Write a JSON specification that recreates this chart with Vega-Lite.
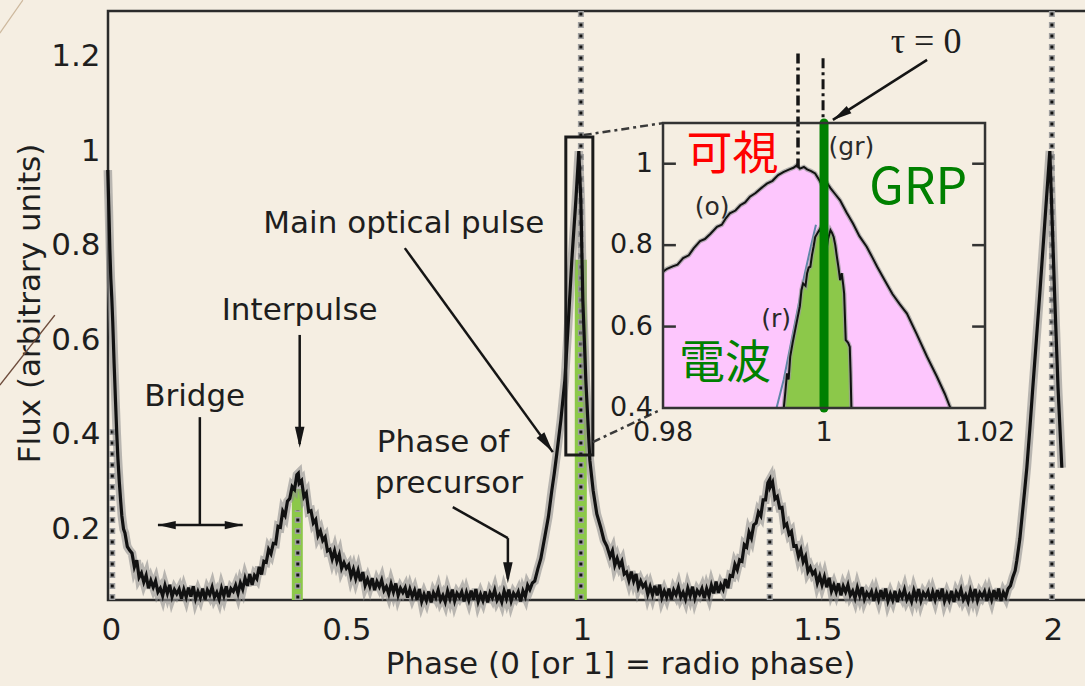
{
  "$schema": "https://vega.github.io/schema/vega-lite/v6.json",
  "width": 982,
  "height": 589,
  "autosize": {"type": "none"},
  "padding": {"left": 108, "top": 11, "right": 0, "bottom": 86},
  "background": "#f5eee2",
  "config": {"view": {"stroke": "#2b2b2b", "strokeWidth": 2.5}, "font": "DejaVu Sans"},
  "datasets": {
    "curve": [
      {"p":-0.0064,"f":0.96},{"p":-0.004,"f":0.87},{"p":-0.002,"f":0.79},{"p":0,"f":0.73},{"p":0.002,"f":0.69},{"p":0.004,"f":0.64},{"p":0.007,"f":0.55},{"p":0.01,"f":0.47},{"p":0.0127,"f":0.4},{"p":0.015,"f":0.35},{"p":0.018,"f":0.3},{"p":0.021,"f":0.258},{"p":0.0234,"f":0.228},{"p":0.027,"f":0.2},{"p":0.03,"f":0.192},{"p":0.035,"f":0.163},{"p":0.04,"f":0.155},
      {"p":0.045,"f":0.149},{"p":0.05,"f":0.12},{"p":0.055,"f":0.134},{"p":0.06,"f":0.098},{"p":0.065,"f":0.107},{"p":0.07,"f":0.088},{"p":0.075,"f":0.102},{"p":0.08,"f":0.075},{"p":0.085,"f":0.091},{"p":0.09,"f":0.077},{"p":0.095,"f":0.09},{"p":0.1,"f":0.067},{"p":0.105,"f":0.075},{"p":0.11,"f":0.059},{"p":0.115,"f":0.081},{"p":0.12,"f":0.064},{"p":0.125,"f":0.082},{"p":0.13,"f":0.057},{"p":0.135,"f":0.072},{"p":0.14,"f":0.063},{"p":0.145,"f":0.073},{"p":0.15,"f":0.053},{"p":0.155,"f":0.072},{"p":0.16,"f":0.056},{"p":0.165,"f":0.076},{"p":0.17,"f":0.057},{"p":0.175,"f":0.079},{"p":0.18,"f":0.053},{"p":0.185,"f":0.068},{"p":0.19,"f":0.055},{"p":0.195,"f":0.074},{"p":0.2,"f":0.051},{"p":0.205,"f":0.071},{"p":0.21,"f":0.061},{"p":0.215,"f":0.077},{"p":0.22,"f":0.056},{"p":0.225,"f":0.066},{"p":0.23,"f":0.052},{"p":0.235,"f":0.075},{"p":0.24,"f":0.059},{"p":0.245,"f":0.079},{"p":0.25,"f":0.056},{"p":0.255,"f":0.074},{"p":0.26,"f":0.068},{"p":0.265,"f":0.081},{"p":0.27,"f":0.064},{"p":0.275,"f":0.086},{"p":0.28,"f":0.073},{"p":0.285,"f":0.096},{"p":0.29,"f":0.08},{"p":0.295,"f":0.105},{"p":0.3,"f":0.082},{"p":0.305,"f":0.102},{"p":0.31,"f":0.095},{"p":0.315,"f":0.12},{"p":0.32,"f":0.104},{"p":0.325,"f":0.132},{"p":0.33,"f":0.13},{"p":0.335,"f":0.157},{"p":0.34,"f":0.148},{"p":0.345,"f":0.17},{"p":0.35,"f":0.169},{"p":0.355,"f":0.206},{"p":0.36,"f":0.204},{"p":0.365,"f":0.238},{"p":0.37,"f":0.229},{"p":0.375,"f":0.259},{"p":0.38,"f":0.265},{"p":0.385,"f":0.29},{"p":0.39,"f":0.284},{"p":0.395,"f":0.315},{"p":0.398,"f":0.318},{"p":0.4,"f":0.297},{"p":0.405,"f":0.303},{"p":0.41,"f":0.268},{"p":0.415,"f":0.276},{"p":0.42,"f":0.237},{"p":0.425,"f":0.239},{"p":0.43,"f":0.213},{"p":0.435,"f":0.22},{"p":0.44,"f":0.186},{"p":0.445,"f":0.196},{"p":0.45,"f":0.176},{"p":0.455,"f":0.183},{"p":0.46,"f":0.154},{"p":0.465,"f":0.157},{"p":0.47,"f":0.137},{"p":0.475,"f":0.154},{"p":0.48,"f":0.132},{"p":0.485,"f":0.146},{"p":0.49,"f":0.117},{"p":0.495,"f":0.129},{"p":0.5,"f":0.117},{"p":0.505,"f":0.124},{"p":0.51,"f":0.1},{"p":0.515,"f":0.115},{"p":0.52,"f":0.095},{"p":0.525,"f":0.112},{"p":0.53,"f":0.09},{"p":0.535,"f":0.109},{"p":0.54,"f":0.081},{"p":0.545,"f":0.094},{"p":0.55,"f":0.079},{"p":0.555,"f":0.096},{"p":0.56,"f":0.071},{"p":0.565,"f":0.089},{"p":0.57,"f":0.078},{"p":0.575,"f":0.092},{"p":0.58,"f":0.07},{"p":0.585,"f":0.078},{"p":0.59,"f":0.063},{"p":0.595,"f":0.084},{"p":0.6,"f":0.067},{"p":0.605,"f":0.085},{"p":0.61,"f":0.06},{"p":0.615,"f":0.075},{"p":0.62,"f":0.066},{"p":0.625,"f":0.076},{"p":0.63,"f":0.055},{"p":0.635,"f":0.073},{"p":0.64,"f":0.057},{"p":0.645,"f":0.07},{"p":0.65,"f":0.051},{"p":0.655,"f":0.073},{"p":0.66,"f":0.047},{"p":0.665,"f":0.062},{"p":0.67,"f":0.049},{"p":0.675,"f":0.068},{"p":0.68,"f":0.045},{"p":0.685,"f":0.065},{"p":0.69,"f":0.055},{"p":0.695,"f":0.071},{"p":0.7,"f":0.05},{"p":0.705,"f":0.06},{"p":0.71,"f":0.046},{"p":0.715,"f":0.069},{"p":0.72,"f":0.053},{"p":0.725,"f":0.072},{"p":0.73,"f":0.048},{"p":0.735,"f":0.064},{"p":0.74,"f":0.056},{"p":0.745,"f":0.067},{"p":0.75,"f":0.047},{"p":0.755,"f":0.066},{"p":0.76,"f":0.05},{"p":0.765,"f":0.07},{"p":0.77,"f":0.051},{"p":0.775,"f":0.073},{"p":0.78,"f":0.047},{"p":0.785,"f":0.062},{"p":0.79,"f":0.049},{"p":0.795,"f":0.068},{"p":0.8,"f":0.045},{"p":0.805,"f":0.065},{"p":0.81,"f":0.055},{"p":0.815,"f":0.071},{"p":0.82,"f":0.05},{"p":0.825,"f":0.06},{"p":0.83,"f":0.046},{"p":0.835,"f":0.069},{"p":0.84,"f":0.053},{"p":0.845,"f":0.072},{"p":0.85,"f":0.048},{"p":0.855,"f":0.064},{"p":0.86,"f":0.056},{"p":0.865,"f":0.067},{"p":0.87,"f":0.047},{"p":0.875,"f":0.069},{"p":0.88,"f":0.057},{"p":0.885,"f":0.081},
      {"p":0.8896,"f":0.072},{"p":0.895,"f":0.086},{"p":0.9,"f":0.09},{"p":0.9066,"f":0.116},{"p":0.913,"f":0.138},{"p":0.9214,"f":0.184},{"p":0.929,"f":0.226},{"p":0.9363,"f":0.282},{"p":0.9415,"f":0.318},{"p":0.9469,"f":0.36},{"p":0.9554,"f":0.43},{"p":0.9639,"f":0.515},{"p":0.9703,"f":0.62},{"p":0.9788,"f":0.77},{"p":0.9873,"f":0.896},{"p":0.9936,"f":1.0},{"p":0.9979,"f":0.896},{"p":1.0021,"f":0.685},{"p":1.0085,"f":0.515},{"p":1.017,"f":0.346},{"p":1.024,"f":0.282},{"p":1.0318,"f":0.232},{"p":1.04,"f":0.204},{"p":1.047,"f":0.176},{"p":1.0531,"f":0.164},
      {"p":1.06,"f":0.142},{"p":1.065,"f":0.154},{"p":1.07,"f":0.124},{"p":1.075,"f":0.138},{"p":1.08,"f":0.122},{"p":1.085,"f":0.132},{"p":1.09,"f":0.105},{"p":1.095,"f":0.109},{"p":1.1,"f":0.091},{"p":1.105,"f":0.11},{"p":1.11,"f":0.09},{"p":1.115,"f":0.105},{"p":1.12,"f":0.077},{"p":1.125,"f":0.09},{"p":1.13,"f":0.078},{"p":1.135,"f":0.085},{"p":1.14,"f":0.062},{"p":1.145,"f":0.078},{"p":1.15,"f":0.061},{"p":1.155,"f":0.08},{"p":1.16,"f":0.06},{"p":1.165,"f":0.082},{"p":1.17,"f":0.055},{"p":1.175,"f":0.069},{"p":1.18,"f":0.056},{"p":1.185,"f":0.074},{"p":1.19,"f":0.051},{"p":1.195,"f":0.071},{"p":1.2,"f":0.061},{"p":1.205,"f":0.077},{"p":1.21,"f":0.056},{"p":1.215,"f":0.066},{"p":1.22,"f":0.052},{"p":1.225,"f":0.075},{"p":1.23,"f":0.059},{"p":1.235,"f":0.078},{"p":1.24,"f":0.054},{"p":1.245,"f":0.07},{"p":1.25,"f":0.062},{"p":1.255,"f":0.074},{"p":1.26,"f":0.054},{"p":1.265,"f":0.074},{"p":1.27,"f":0.059},{"p":1.275,"f":0.081},{"p":1.28,"f":0.064},{"p":1.285,"f":0.089},{"p":1.29,"f":0.065},{"p":1.295,"f":0.082},{"p":1.3,"f":0.072},{"p":1.305,"f":0.094},{"p":1.31,"f":0.075},{"p":1.315,"f":0.102},{"p":1.32,"f":0.1},{"p":1.325,"f":0.125},{"p":1.33,"f":0.114},{"p":1.335,"f":0.135},{"p":1.34,"f":0.132},{"p":1.345,"f":0.167},{"p":1.35,"f":0.162},{"p":1.355,"f":0.193},{"p":1.36,"f":0.181},{"p":1.365,"f":0.209},{"p":1.37,"f":0.213},{"p":1.375,"f":0.236},{"p":1.38,"f":0.228},{"p":1.385,"f":0.262},{"p":1.39,"f":0.262},{"p":1.395,"f":0.298},{"p":1.399,"f":0.305},{"p":1.4,"f":0.289},{"p":1.405,"f":0.299},{"p":1.41,"f":0.264},{"p":1.415,"f":0.269},{"p":1.42,"f":0.245},{"p":1.425,"f":0.246},{"p":1.43,"f":0.206},{"p":1.435,"f":0.211},{"p":1.44,"f":0.189},{"p":1.445,"f":0.195},{"p":1.45,"f":0.164},{"p":1.455,"f":0.165},{"p":1.46,"f":0.142},{"p":1.465,"f":0.156},{"p":1.47,"f":0.131},{"p":1.475,"f":0.142},{"p":1.48,"f":0.11},{"p":1.485,"f":0.119},{"p":1.49,"f":0.105},{"p":1.495,"f":0.111},{"p":1.5,"f":0.086},{"p":1.505,"f":0.101},{"p":1.51,"f":0.082},{"p":1.515,"f":0.099},{"p":1.52,"f":0.077},{"p":1.525,"f":0.097},{"p":1.53,"f":0.069},{"p":1.535,"f":0.082},{"p":1.54,"f":0.067},{"p":1.545,"f":0.085},{"p":1.55,"f":0.06},{"p":1.555,"f":0.079},{"p":1.56,"f":0.067},{"p":1.565,"f":0.082},{"p":1.57,"f":0.06},{"p":1.575,"f":0.069},{"p":1.58,"f":0.054},{"p":1.585,"f":0.076},{"p":1.59,"f":0.059},{"p":1.595,"f":0.077},{"p":1.6,"f":0.052},{"p":1.605,"f":0.065},{"p":1.61,"f":0.057},{"p":1.615,"f":0.068},{"p":1.62,"f":0.048},{"p":1.625,"f":0.067},{"p":1.63,"f":0.051},{"p":1.635,"f":0.071},{"p":1.64,"f":0.052},{"p":1.645,"f":0.074},{"p":1.65,"f":0.048},{"p":1.655,"f":0.063},{"p":1.66,"f":0.05},{"p":1.665,"f":0.069},{"p":1.67,"f":0.046},{"p":1.675,"f":0.066},{"p":1.68,"f":0.056},{"p":1.685,"f":0.072},{"p":1.69,"f":0.051},{"p":1.695,"f":0.061},{"p":1.7,"f":0.047},{"p":1.705,"f":0.07},{"p":1.71,"f":0.054},{"p":1.715,"f":0.073},{"p":1.72,"f":0.049},{"p":1.725,"f":0.065},{"p":1.73,"f":0.057},{"p":1.735,"f":0.068},{"p":1.74,"f":0.048},{"p":1.745,"f":0.067},{"p":1.75,"f":0.051},{"p":1.755,"f":0.071},{"p":1.76,"f":0.052},{"p":1.765,"f":0.074},{"p":1.77,"f":0.048},{"p":1.775,"f":0.063},{"p":1.78,"f":0.05},{"p":1.785,"f":0.069},{"p":1.79,"f":0.046},{"p":1.795,"f":0.066},{"p":1.8,"f":0.056},{"p":1.805,"f":0.072},{"p":1.81,"f":0.051},{"p":1.815,"f":0.061},{"p":1.82,"f":0.047},{"p":1.825,"f":0.07},{"p":1.83,"f":0.054},{"p":1.835,"f":0.073},{"p":1.84,"f":0.049},{"p":1.845,"f":0.065},{"p":1.85,"f":0.057},{"p":1.855,"f":0.068},{"p":1.86,"f":0.048},{"p":1.865,"f":0.067},{"p":1.87,"f":0.051},{"p":1.875,"f":0.071},{"p":1.88,"f":0.052},{"p":1.885,"f":0.074},{"p":1.89,"f":0.048},{"p":1.895,"f":0.066},{"p":1.9,"f":0.056},
      {"p":1.905,"f":0.074},{"p":1.91,"f":0.08},{"p":1.915,"f":0.098},{"p":1.92,"f":0.112},{"p":1.9236,"f":0.134},{"p":1.93,"f":0.18},{"p":1.935,"f":0.23},{"p":1.94,"f":0.28},{"p":1.9448,"f":0.33},{"p":1.951,"f":0.41},{"p":1.9575,"f":0.5},{"p":1.965,"f":0.6},{"p":1.9724,"f":0.7},{"p":1.983,"f":0.85},{"p":1.9936,"f":1.0},{"p":1.999,"f":0.84},{"p":2.0042,"f":0.685},{"p":2.011,"f":0.5},{"p":2.0191,"f":0.33}
    ],
    "ocurve": [
      {"p":0.98,"f":0.735},{"p":0.9805,"f":0.742},{"p":0.9812,"f":0.748},{"p":0.9818,"f":0.752},{"p":0.9825,"f":0.768},{"p":0.9832,"f":0.775},{"p":0.9838,"f":0.792},{"p":0.9846,"f":0.81},{"p":0.9852,"f":0.815},{"p":0.9859,"f":0.828},{"p":0.9867,"f":0.845},{"p":0.9873,"f":0.85},{"p":0.9878,"f":0.866},{"p":0.9883,"f":0.878},{"p":0.989,"f":0.885},{"p":0.9896,"f":0.898},{"p":0.9902,"f":0.905},{"p":0.9908,"f":0.919},{"p":0.9915,"f":0.928},{"p":0.9922,"f":0.94},{"p":0.9929,"f":0.951},{"p":0.9936,"f":0.958},{"p":0.9943,"f":0.972},{"p":0.995,"f":0.98},{"p":0.9957,"f":0.986},{"p":0.9962,"f":0.99},{"p":0.9966,"f":0.996},{"p":0.997,"f":0.988},{"p":0.9975,"f":0.992},{"p":0.9979,"f":0.986},{"p":0.9984,"f":0.982},{"p":0.9989,"f":0.976},{"p":0.9994,"f":0.96},{"p":0.9998,"f":0.945},{"p":1.0003,"f":0.955},{"p":1.0008,"f":0.94},{"p":1.0014,"f":0.925},{"p":1.002,"f":0.91},{"p":1.0028,"f":0.88},{"p":1.0036,"f":0.853},{"p":1.0044,"f":0.822},{"p":1.0053,"f":0.796},{"p":1.006,"f":0.77},{"p":1.0066,"f":0.747},{"p":1.0075,"f":0.715},{"p":1.0085,"f":0.68},{"p":1.0094,"f":0.655},{"p":1.0103,"f":0.632},{"p":1.0115,"f":0.582},{"p":1.0128,"f":0.526},{"p":1.014,"f":0.478},{"p":1.015,"f":0.435},{"p":1.0157,"f":0.4}
    ],
    "rcurve": [
      {"p":0.995,"f":0.4},{"p":0.9952,"f":0.44},{"p":0.9954,"f":0.485},{"p":0.9956,"f":0.47},{"p":0.9958,"f":0.526},{"p":0.9961,"f":0.56},{"p":0.9964,"f":0.59},{"p":0.9967,"f":0.62},{"p":0.997,"f":0.65},{"p":0.9972,"f":0.69},{"p":0.9974,"f":0.706},{"p":0.9977,"f":0.7},{"p":0.9979,"f":0.731},{"p":0.9981,"f":0.745},{"p":0.9983,"f":0.747},{"p":0.9985,"f":0.775},{"p":0.9987,"f":0.796},{"p":0.9989,"f":0.82},{"p":0.9995,"f":0.84},{"p":1.0,"f":0.8},{"p":1.0003,"f":0.788},{"p":1.0005,"f":0.815},{"p":1.0008,"f":0.837},{"p":1.001,"f":0.83},{"p":1.0012,"f":0.82},{"p":1.0014,"f":0.8},{"p":1.0016,"f":0.771},{"p":1.0018,"f":0.745},{"p":1.002,"f":0.714},{"p":1.0022,"f":0.731},{"p":1.0024,"f":0.7},{"p":1.0025,"f":0.681},{"p":1.0027,"f":0.567},{"p":1.003,"f":0.56},{"p":1.0032,"f":0.55},{"p":1.0033,"f":0.485},{"p":1.0034,"f":0.4}
    ],
    "bluetrace": [
      {"p":0.9941,"f":0.4},{"p":0.995,"f":0.47},{"p":0.9958,"f":0.55},{"p":0.9966,"f":0.63},{"p":0.9975,"f":0.72},{"p":0.9984,"f":0.8},{"p":0.999,"f":0.85}
    ]
  },
  "layer": [
    {
      "encoding": {
        "x": {
          "field": "p", "type": "quantitative",
          "scale": {"domain": [-0.006, 2.0789], "nice": false, "zero": false},
          "axis": {
            "values": [0, 0.5, 1, 1.5, 2], "labelExpr": "datum.value + ''",
            "ticks": false, "domain": false, "grid": false, "labelFlush": false,
            "labelFont": "DejaVu Sans", "labelFontSize": 31, "labelColor": "#1e1e1e", "labelPadding": 15,
            "title": "Phase (0 [or 1] = radio phase)", "titleFont": "DejaVu Sans", "titleFontSize": 31,
            "titleFontWeight": "normal", "titleColor": "#1e1e1e", "titleX": 512, "titleY": 73,
            "titleAlign": "center", "titleBaseline": "alphabetic"
          }
        },
        "y": {
          "field": "f", "type": "quantitative",
          "scale": {"domain": [0.05, 1.2966], "nice": false, "zero": false},
          "axis": {
            "values": [0.2, 0.4, 0.6, 0.8, 1, 1.2], "labelExpr": "datum.value + ''",
            "ticks": false, "domain": false, "grid": false, "labelFlush": false,
            "labelFont": "DejaVu Sans", "labelFontSize": 31, "labelColor": "#1e1e1e", "labelPadding": 8,
            "title": "Flux (arbitrary units)", "titleFont": "DejaVu Sans", "titleFontSize": 31,
            "titleFontWeight": "normal", "titleColor": "#1e1e1e", "titleAngle": -90,
            "titleX": -69, "titleY": 292, "titleAlign": "center", "titleBaseline": "alphabetic"
          }
        }
      },
      "layer": [
        {
          "data": {"values": [{"p": -0.2357, "f": 1.2497, "p2": -0.1868, "f2": 1.3196}]},
          "mark": {"type": "rule", "color": "#cdb89d", "strokeWidth": 1.2},
          "encoding": {"x2": {"field": "p2"}, "y2": {"field": "f2"}}
        },
        {
          "data": {"values": [{"p": -0.2357, "f": 0.5048, "p2": -0.1189, "f2": 0.653}]},
          "mark": {"type": "rule", "color": "#6e4c3c", "strokeWidth": 1.5},
          "encoding": {"x2": {"field": "p2"}, "y2": {"field": "f2"}}
        },
        {
          "data": {"values": [
            {"p": 0.3843, "p2": 0.4076, "f": 0.05, "f2": 0.285},
            {"p": 0.985, "p2": 1.0106, "f": 0.05, "f2": 0.77}
          ]},
          "mark": {"type": "rect", "color": "#8cc84a"},
          "encoding": {"x2": {"field": "p2"}, "y2": {"field": "f2"}}
        },
        {
          "data": {"values": [
            {"p": 0.003, "f": 0.05, "f2": 0.42},
            {"p": 0.397, "f": 0.05, "f2": 0.24},
            {"p": 0.998, "f": 0.05, "f2": 1.2966},
            {"p": 1.399, "f": 0.05, "f2": 0.247},
            {"p": 1.998, "f": 0.05, "f2": 1.2966}
          ]},
          "layer": [
            {"mark": {"type": "rule", "color": "#a0a0a0", "strokeWidth": 6, "strokeDash": [6, 5]}, "encoding": {"y2": {"field": "f2"}}},
            {"mark": {"type": "rule", "color": "#111111", "strokeWidth": 3, "strokeDash": [3, 8], "strokeDashOffset": -1.5}, "encoding": {"y2": {"field": "f2"}}}
          ]
        },
        {
          "data": {"name": "curve"},
          "layer": [
            {"mark": {"type": "line", "color": "#8f8f8f", "strokeWidth": 8.5, "opacity": 0.6, "clip": false}},
            {"mark": {"type": "line", "color": "#111111", "strokeWidth": 3.2, "clip": false}}
          ]
        },
        {
          "data": {"values": [{"p": 0.966, "p2": 1.0234, "f": 0.357, "f2": 1.03}]},
          "mark": {"type": "rect", "fillOpacity": 0, "stroke": "#1a1a1a", "strokeWidth": 3},
          "encoding": {"x2": {"field": "p2"}, "y2": {"field": "f2"}}
        },
        {
          "data": {"values": [
            {"p": 1.004, "f": 1.034, "p2": 1.172, "f2": 1.0593},
            {"p": 1.0234, "f": 0.384, "p2": 1.1656, "f2": 0.452}
          ]},
          "mark": {"type": "rule", "color": "#3a3a3a", "strokeWidth": 2.5, "strokeDash": [8, 4, 3, 4]},
          "encoding": {"x2": {"field": "p2"}, "y2": {"field": "f2"}}
        },
        {
          "data": {"values": [
            {"p": 0.6242, "f": 0.7947, "p2": 0.9384, "f2": 0.363},
            {"p": 0.401, "f": 0.611, "p2": 0.401, "f2": 0.38},
            {"p": 0.189, "f": 0.437, "p2": 0.189, "f2": 0.2085},
            {"p": 0.1, "f": 0.2085, "p2": 0.28, "f2": 0.2085},
            {"p": 0.726, "f": 0.2466, "p2": 0.843, "f2": 0.181},
            {"p": 0.843, "f": 0.181, "p2": 0.843, "f2": 0.095}
          ]},
          "mark": {"type": "rule", "color": "#151515", "strokeWidth": 2.5},
          "encoding": {"x2": {"field": "p2"}, "y2": {"field": "f2"}}
        },
        {
          "data": {"values": [{"p": 0.401, "f": 0.372}, {"p": 0.843, "f": 0.0857}]},
          "mark": {"type": "point", "shape": "M0,0L-0.4,1.75L0.4,1.75Z", "angle": 180, "size": 576, "filled": true, "color": "#151515", "opacity": 1}
        },
        {
          "data": {"values": [{"p": 0.9384, "f": 0.363}]},
          "mark": {"type": "point", "shape": "M0,0L-0.4,1.75L0.4,1.75Z", "angle": 144, "size": 576, "filled": true, "color": "#151515", "opacity": 1}
        },
        {
          "data": {"values": [{"p": 0.0998, "f": 0.2085}]},
          "mark": {"type": "point", "shape": "M0,0L-0.4,1.75L0.4,1.75Z", "angle": 270, "size": 420, "filled": true, "color": "#151515", "opacity": 1}
        },
        {
          "data": {"values": [{"p": 0.28, "f": 0.2085}]},
          "mark": {"type": "point", "shape": "M0,0L-0.4,1.75L0.4,1.75Z", "angle": 90, "size": 420, "filled": true, "color": "#151515", "opacity": 1}
        },
        {
          "data": {"values": [
            {"t": "Main optical pulse", "p": 0.622, "f": 0.8265},
            {"t": "Interpulse", "p": 0.401, "f": 0.642},
            {"t": "Bridge", "p": 0.178, "f": 0.46}
          ]},
          "mark": {"type": "text", "font": "DejaVu Sans", "fontSize": 31, "align": "center", "baseline": "alphabetic", "color": "#1e1e1e"},
          "encoding": {"text": {"field": "t"}}
        },
        {
          "data": {"values": [
            {"t": "Phase of", "p": 0.5648, "f": 0.363},
            {"t": "precursor", "p": 0.5605, "f": 0.276}
          ]},
          "mark": {"type": "text", "font": "DejaVu Sans", "fontSize": 31, "align": "left", "baseline": "alphabetic", "color": "#1e1e1e"},
          "encoding": {"text": {"field": "t"}}
        },
        {
          "data": {"values": [{"p": 0}, {"p": 0.5}, {"p": 1}, {"p": 1.5}, {"p": 2}]},
          "layer": [
            {"mark": {"type": "tick", "orient": "vertical", "size": 28, "thickness": 2.5, "color": "#2b2b2b", "opacity": 1, "clip": true}, "encoding": {"y": {"datum": 0.05}}},
            {"mark": {"type": "tick", "orient": "vertical", "size": 28, "thickness": 2.5, "color": "#2b2b2b", "opacity": 1, "clip": true}, "encoding": {"y": {"datum": 1.2966}}}
          ]
        },
        {
          "data": {"values": [{"f": 0.2}, {"f": 0.4}, {"f": 0.6}, {"f": 0.8}, {"f": 1}, {"f": 1.2}]},
          "layer": [
            {"mark": {"type": "tick", "orient": "horizontal", "size": 30, "thickness": 2.5, "color": "#2b2b2b", "opacity": 1, "clip": true}, "encoding": {"x": {"datum": -0.006}}},
            {"mark": {"type": "tick", "orient": "horizontal", "size": 30, "thickness": 2.5, "color": "#2b2b2b", "opacity": 1, "clip": true}, "encoding": {"x": {"datum": 2.0789}}}
          ]
        }
      ]
    },
    {
      "encoding": {
        "x": {"field": "p", "type": "quantitative", "scale": {"domain": [0.911056, 1.03304], "nice": false, "zero": false}, "axis": null},
        "y": {"field": "f", "type": "quantitative", "scale": {"domain": [-0.07158, 1.37509], "nice": false, "zero": false}, "axis": null}
      },
      "layer": [
        {
          "data": {"name": "ocurve"},
          "layer": [
            {"mark": {"type": "area", "color": "#fdc6fd"}, "encoding": {"y2": {"datum": 0.4}}},
            {"mark": {"type": "line", "color": "#9a9a9a", "strokeWidth": 4.5, "opacity": 0.7}},
            {"mark": {"type": "line", "color": "#111111", "strokeWidth": 2}}
          ]
        },
        {
          "data": {"name": "rcurve"},
          "layer": [
            {"mark": {"type": "area", "color": "#8cc84a"}, "encoding": {"y2": {"datum": 0.4}}}
          ]
        },
        {
          "data": {"name": "bluetrace"},
          "mark": {"type": "line", "color": "#5f86a8", "strokeWidth": 2}
        },
        {
          "data": {"name": "rcurve"},
          "layer": [
            {"mark": {"type": "line", "color": "#9a9a9a", "strokeWidth": 4.5, "opacity": 0.7}},
            {"mark": {"type": "line", "color": "#111111", "strokeWidth": 2}}
          ]
        },
        {
          "data": {"values": [{"p": 0.99677, "f": 1.271, "f2": 0.991}]},
          "mark": {"type": "rule", "color": "#151515", "strokeWidth": 3.5, "strokeDash": [10, 4, 3, 4]},
          "encoding": {"y2": {"field": "f2"}}
        },
        {
          "data": {"values": [{"p": 0.99988, "f": 1.259, "f2": 1.1}]},
          "mark": {"type": "rule", "color": "#151515", "strokeWidth": 3, "strokeDash": [10, 4, 3, 4]},
          "encoding": {"y2": {"field": "f2"}}
        },
        {
          "data": {"values": [{"p": 1.0, "f": 0.4, "f2": 1.1}]},
          "mark": {"type": "rule", "color": "#008000", "strokeWidth": 9, "strokeCap": "round"},
          "encoding": {"y2": {"field": "f2"}}
        },
        {
          "data": {"values": [{"p": 0.98, "p2": 1.02, "f": 0.4, "f2": 1.1}]},
          "mark": {"type": "rect", "fillOpacity": 0, "stroke": "#333333", "strokeWidth": 2.5},
          "encoding": {"x2": {"field": "p2"}, "y2": {"field": "f2"}}
        },
        {
          "data": {"values": [
            {"p": 0.98, "p2": 0.9816, "f": 0.6}, {"p": 0.98, "p2": 0.9816, "f": 0.8}, {"p": 0.98, "p2": 0.9816, "f": 1.0},
            {"p": 1.0184, "p2": 1.02, "f": 0.6}, {"p": 1.0184, "p2": 1.02, "f": 0.8}, {"p": 1.0184, "p2": 1.02, "f": 1.0}
          ]},
          "mark": {"type": "rule", "color": "#333333", "strokeWidth": 2.5},
          "encoding": {"x2": {"field": "p2"}}
        },
        {
          "data": {"values": [
            {"t": "1", "p": 0.97876, "f": 1.0}, {"t": "0.8", "p": 0.97876, "f": 0.8},
            {"t": "0.6", "p": 0.97876, "f": 0.6}, {"t": "0.4", "p": 0.97876, "f": 0.4}
          ]},
          "mark": {"type": "text", "font": "DejaVu Sans", "fontSize": 27, "align": "right", "baseline": "middle", "color": "#1e1e1e"},
          "encoding": {"text": {"field": "t"}}
        },
        {
          "data": {"values": [
            {"t": "0.98", "p": 0.98, "f": 0.3705}, {"t": "1", "p": 1.0, "f": 0.3705}, {"t": "1.02", "p": 1.02, "f": 0.3705}
          ]},
          "mark": {"type": "text", "font": "DejaVu Sans", "fontSize": 27, "align": "center", "baseline": "top", "color": "#1e1e1e"},
          "encoding": {"text": {"field": "t"}}
        },
        {
          "data": {"values": [
            {"t": "(gr)", "p": 1.0034, "f": 1.022},
            {"t": "(o)", "p": 0.98609, "f": 0.874},
            {"t": "(r)", "p": 0.99404, "f": 0.6}
          ]},
          "mark": {"type": "text", "font": "DejaVu Sans", "fontSize": 25, "align": "center", "baseline": "alphabetic", "color": "#2a2a2a"},
          "encoding": {"text": {"field": "t"}}
        },
        {
          "data": {"values": [{"t": "可視", "p": 0.98863, "f": 0.9876}]},
          "mark": {"type": "text", "font": "Noto Sans CJK JP", "fontSize": 46, "align": "center", "baseline": "alphabetic", "color": "#ff0000"},
          "encoding": {"text": {"field": "t"}}
        },
        {
          "data": {"values": [{"t": "電波", "p": 0.9877, "f": 0.4725}]},
          "mark": {"type": "text", "font": "Noto Sans CJK JP", "fontSize": 46, "align": "center", "baseline": "alphabetic", "color": "#008000"},
          "encoding": {"text": {"field": "t"}}
        },
        {
          "data": {"values": [{"t": "GRP", "p": 1.0117, "f": 0.902}]},
          "mark": {"type": "text", "font": "Noto Sans CJK JP", "fontSize": 50, "align": "center", "baseline": "alphabetic", "color": "#008000"},
          "encoding": {"text": {"field": "t"}}
        },
        {
          "data": {"values": [{"t": "τ = 0", "p": 1.01267, "f": 1.272}]},
          "mark": {"type": "text", "font": "Liberation Serif", "fontSize": 36, "align": "center", "baseline": "alphabetic", "color": "#1e1e1e"},
          "encoding": {"text": {"field": "t"}}
        },
        {
          "data": {"values": [{"p": 1.0128, "f": 1.255, "p2": 1.0011, "f2": 1.1076}]},
          "mark": {"type": "rule", "color": "#151515", "strokeWidth": 2.5},
          "encoding": {"x2": {"field": "p2"}, "y2": {"field": "f2"}}
        },
        {
          "data": {"values": [{"p": 1.0011, "f": 1.1076}]},
          "mark": {"type": "point", "shape": "M0,0L-0.4,1.75L0.4,1.75Z", "angle": 237.5, "size": 480, "filled": true, "color": "#151515", "opacity": 1}
        }
      ]
    }
  ],
  "resolve": {"scale": {"x": "independent", "y": "independent"}, "axis": {"x": "independent", "y": "independent"}}
}
